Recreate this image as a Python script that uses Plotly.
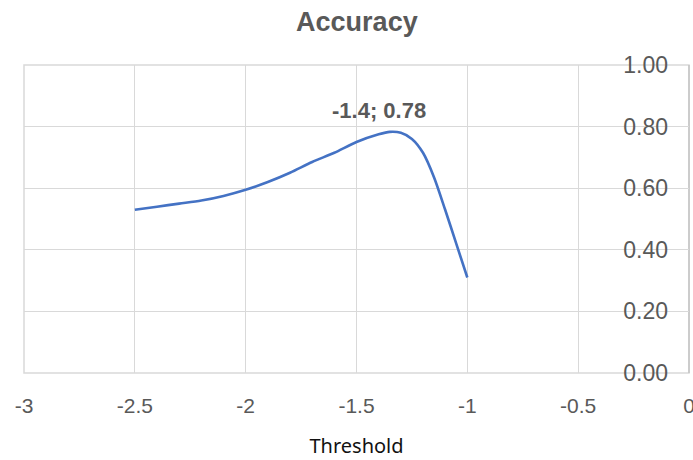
import plotly.graph_objects as go

threshold = [-2.5, -2.4, -2.3, -2.2, -2.1, -2.0, -1.9, -1.8, -1.7, -1.6, -1.5,
             -1.4, -1.35, -1.3, -1.25, -1.2, -1.15, -1.1, -1.05, -1.0]
accuracy = [0.53, 0.54, 0.55, 0.56, 0.575, 0.595, 0.62, 0.65, 0.685, 0.715, 0.75,
            0.775, 0.783, 0.78, 0.76, 0.715, 0.635, 0.53, 0.42, 0.31]
peak_x, peak_y = -1.4, 0.78
x_ticks = [-3, -2.5, -2, -1.5, -1, -0.5, 0]
y_ticks = [0, 0.2, 0.4, 0.6, 0.8, 1.0]

W, H = 693, 460
L, R, T, B = 24, 4, 65, 87

fig = go.Figure()
fig.add_trace(go.Scatter(
    x=threshold, y=accuracy, mode="lines",
    line=dict(color="#4472C4", width=2.6, shape="spline", smoothing=0.8),
    hoverinfo="skip", showlegend=False,
))

fig.add_annotation(
    x=peak_x, y=peak_y, xref="x", yref="y",
    text="<b>%g; %.2f</b>" % (peak_x, peak_y), showarrow=False,
    yshift=22, font=dict(family="Liberation Sans, Arial", size=22, color="#595959"),
)

# plot-area border (grid lines at the range ends)
fig.add_shape(type="rect", xref="paper", yref="paper", x0=0, x1=1, y0=0, y1=1,
              line=dict(color="#d9d9d9", width=1.5), layer="below")
fig.add_shape(type="line", xref="paper", yref="paper", x0=1, x1=1, y0=0, y1=1,
              line=dict(color="#c4c4c4", width=1.5), layer="below")

fig.update_layout(
    width=W, height=H,
    margin=dict(l=L, r=R, t=T, b=B, autoexpand=False),
    paper_bgcolor="white", plot_bgcolor="white",
    title=dict(text="<b>Accuracy</b>", x=0.515, xanchor="center",
               y=1 - 22 / H, yanchor="middle",
               font=dict(family="Liberation Sans, Arial", size=27, color="#595959")),
    xaxis=dict(
        range=[-3, 0], tickvals=x_ticks, ticktext=[("%g" % v) for v in x_ticks],
        showgrid=True, gridcolor="#d9d9d9", gridwidth=1.2,
        zeroline=False, showline=False, ticks="", automargin=False,
        ticklabelstandoff=18, ticklabeloverflow="allow",
        tickfont=dict(family="Liberation Sans, Arial", size=21, color="#595959"),
        title=dict(text="Threshold", standoff=22,
                   font=dict(family="Noto Sans", size=20, color="#111111")),
    ),
    yaxis=dict(
        range=[0, 1], tickvals=y_ticks, tickformat=".2f",
        showgrid=True, gridcolor="#d9d9d9", gridwidth=1.2,
        zeroline=False, showline=False, ticks="", automargin=False,
        side="left", anchor="free", position=(668 - L) / (W - L - R),
        ticklabeloverflow="allow",
        tickfont=dict(family="Liberation Sans, Arial", size=23, color="#595959"),
    ),
)

fig.write_html("out.html")
